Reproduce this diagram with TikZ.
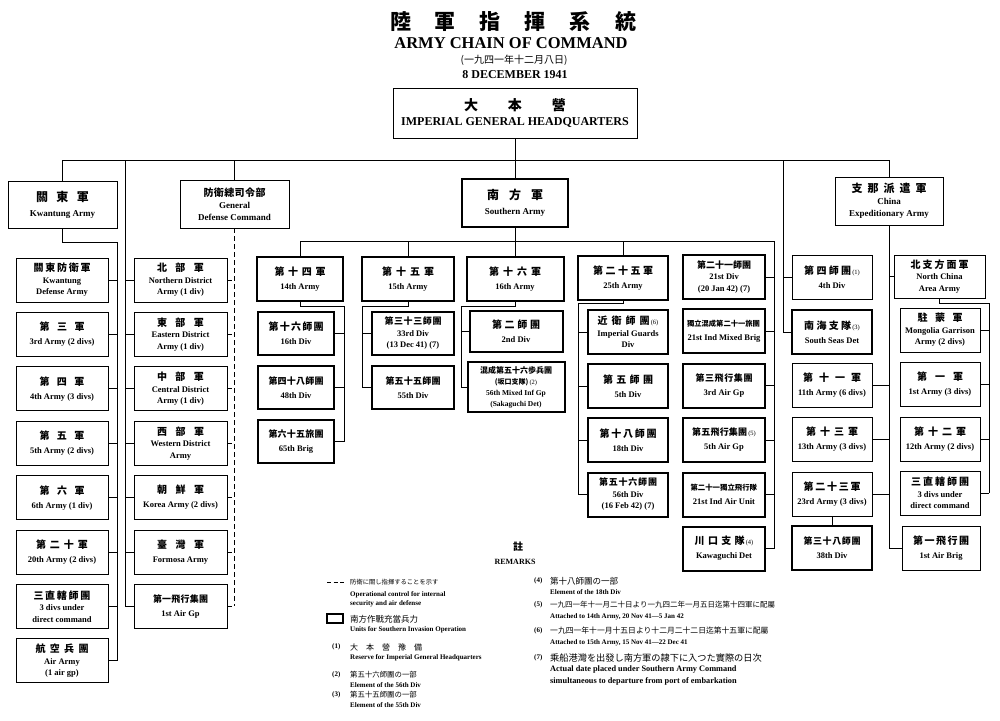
\documentclass[tikz,border=0pt]{standalone}
\usepackage{fontspec}
\setmainfont{Liberation Serif}
\newfontfamily\jp[WordSpace={0.01,1,1}]{Noto Sans CJK JP}
\usetikzlibrary{calc}
% spread the kanji of a name over a given width
\newcommand\js[3][10]{\makebox[#2][s]{\jp\fontsize{#1}{12}\selectfont#3}}
\newcommand\jr[2]{{\jp\mdseries\fontsize{#1}{#1}\selectfont#2}}
\newcommand\nt[1]{{\fontsize{6.5}{6.5}\selectfont\mdseries\,(#1)}}
\tikzstyle{unit}=[draw,line width=.9pt,inner sep=1pt,align=center,minimum height=44pt,font=\fontsize{8.5}{11.5}\selectfont\bfseries]
\tikzstyle{sunit}=[unit,line width=2pt]
\tikzstyle{head}=[unit,minimum height=48pt,font=\fontsize{9}{12}\selectfont\bfseries]
\tikzstyle{ln}=[line width=.9pt]
\tikzstyle{ctl}=[ln,dash pattern=on 5pt off 3pt]
\tikzstyle{rm}=[anchor=west,inner sep=0pt,font=\fontsize{7}{8}\selectfont\bfseries]
\begin{document}
\begin{tikzpicture}[x=1pt,y=-1pt]
	\fill[white] (0,0) rectangle (1000,720);
	\useasboundingbox (0,0) rectangle (1000,720);
	% title
	\node (T1) at (513,22) {\jp\bfseries\fontsize{21}{21}\selectfont 陸\hspace{24pt}軍\hspace{24pt}指\hspace{24pt}揮\hspace{24pt}系\hspace{24pt}統};
	\node (T2) at (511,43) {\fontsize{16.5}{17}\selectfont\bfseries ARMY CHAIN OF COMMAND};
	\node (T3) at (514,60) {\jp\fontsize{10}{10}\selectfont (一九四一年十二月八日)};
	\node (T4) at (515,75) {\fontsize{12}{12}\selectfont\bfseries 8 DECEMBER 1941};
	\node[unit,minimum width=244pt,minimum height=50pt] (HQ) at (515,113) {\js[14]{102pt}{大 本 營}\\[3pt]{\fontsize{12}{14}\selectfont IMPERIAL GENERAL HEADQUARTERS}};
	% top level
	\node[head,minimum width=109pt,minimum height=47pt] (KW) at (62.5,204.5) {\js[12]{53pt}{關 東 軍}\\[3pt]Kwantung Army};
	\node[head,minimum width=109pt] (GD) at (234.5,204) {\js{62pt}{防 衛 總 司 令 部}\\General\\Defense Command};
	\node[head,line width=2pt,minimum width=106pt] (SA) at (515,203) {\js[12]{56pt}{南 方 軍}\\[3pt]Southern Army};
	\node[head,minimum width=108pt] (CE) at (889,201) {\js[11]{75pt}{支 那 派 遣 軍}\\China\\Expeditionary Army};
	% Kwantung Army
	\node[unit,minimum width=92pt] (K1) at (62,280) {\js{57pt}{關 東 防 衛 軍}\\Kwantung\\Defense Army};
	\node[unit,minimum width=92pt] (K2) at (62,334.4) {\js{45pt}{第 三 軍}\\[2.5pt]3rd Army (2 divs)};
	\node[unit,minimum width=92pt] (K3) at (62,388.8) {\js{45pt}{第 四 軍}\\[2.5pt]4th Army (3 divs)};
	\node[unit,minimum width=92pt] (K4) at (62,443.2) {\js{45pt}{第 五 軍}\\[2.5pt]5th Army (2 divs)};
	\node[unit,minimum width=92pt] (K5) at (62,497.6) {\js{45pt}{第 六 軍}\\[2.5pt]6th Army (1 div)};
	\node[unit,minimum width=92pt] (K6) at (62,552) {\js{52pt}{第 二 十 軍}\\[2.5pt]20th Army (2 divs)};
	\node[unit,minimum width=92pt] (K7) at (62,606.4) {\js{57pt}{三 直 轄 師 團}\\3 divs under\\direct command};
	\node[unit,minimum width=92pt] (K8) at (62,660.8) {\js{53pt}{航 空 兵 團}\\Air Army\\(1 air gp)};
	% General Defense Command
	\node[unit,minimum width=93pt] (G1) at (180.5,280) {\js{47pt}{北 部 軍}\\Northern District\\Army (1 div)};
	\node[unit,minimum width=93pt] (G2) at (180.5,334.4) {\js{47pt}{東 部 軍}\\Eastern District\\Army (1 div)};
	\node[unit,minimum width=93pt] (G3) at (180.5,388.8) {\js{47pt}{中 部 軍}\\Central District\\Army (1 div)};
	\node[unit,minimum width=93pt] (G4) at (180.5,443.2) {\js{47pt}{西 部 軍}\\Western District\\Army};
	\node[unit,minimum width=93pt] (G5) at (180.5,497.6) {\js{47pt}{朝 鮮 軍}\\[2.5pt]Korea Army (2 divs)};
	\node[unit,minimum width=93pt] (G6) at (180.5,552) {\js{47pt}{臺 灣 軍}\\[2.5pt]Formosa Army};
	\node[unit,minimum width=93pt] (G7) at (180.5,606.4) {\js[9]{55pt}{第 一 飛 行 集 團}\\[2.5pt]1st Air Gp};
	% Southern Army
	\node[sunit,minimum width=86pt] (A14) at (300,279) {\js{51pt}{第 十 四 軍}\\[2.5pt]14th Army};
	\node[sunit,minimum width=92pt] (A15) at (408,279) {\js{52pt}{第 十 五 軍}\\[2.5pt]15th Army};
	\node[sunit,minimum width=97pt] (A16) at (515,279) {\js{52pt}{第 十 六 軍}\\[2.5pt]16th Army};
	\node[sunit,minimum width=90pt] (A25) at (623,278) {\js{60pt}{第 二 十 五 軍}\\[2.5pt]25th Army};
	\node[sunit,minimum width=76pt,minimum height=43pt] (B1) at (296,333.5) {\js{55pt}{第 十 六 師 團}\\[2.5pt]16th Div};
	\node[sunit,minimum width=76pt,minimum height=43pt] (B2) at (296,387.5) {\js[9]{55pt}{第 四 十 八 師 團}\\[2.5pt]48th Div};
	\node[sunit,minimum width=76pt,minimum height=43pt] (B3) at (296,441.5) {\js[9]{55pt}{第 六 十 五 旅 團}\\[2.5pt]65th Brig};
	\node[sunit,minimum width=82pt,minimum height=43pt] (C1) at (413,333.5) {\js[9]{57pt}{第 三 十 三 師 團}\\33rd Div\\(13 Dec 41) (7)};
	\node[sunit,minimum width=82pt,minimum height=43pt] (C2) at (413,387.5) {\js[9]{55pt}{第 五 十 五 師 團}\\[2.5pt]55th Div};
	\node[sunit,minimum width=93pt,minimum height=41pt] (F1) at (516,331.5) {\js{48pt}{第 二 師 團}\\[2.5pt]2nd Div};
	\node[sunit,minimum width=97pt,minimum height=50pt,font=\fontsize{7.5}{11}\selectfont\bfseries] (F2) at (516,387) {\js[8]{72pt}{混 成 第 五 十 六 歩 兵 團}\\{\jp\fontsize{7}{7}\selectfont (坂口支隊)}\nt{2}\\56th Mixed Inf Gp\\(Sakaguchi Det)};
	\node[sunit,minimum width=80pt] (E1) at (628,332) {\js{52pt}{近 衛 師 團}\nt{6}\\Imperial Guards\\Div};
	\node[sunit,minimum width=80pt] (E2) at (628,386) {\js{50pt}{第 五 師 團}\\[2.5pt]5th Div};
	\node[sunit,minimum width=80pt] (E3) at (628,440) {\js{57pt}{第 十 八 師 團}\\[2.5pt]18th Div};
	\node[sunit,minimum width=80pt] (E4) at (628,494.5) {\js[9]{58pt}{第 五 十 六 師 團}\\56th Div\\(16 Feb 42) (7)};
	\node[sunit,minimum width=82pt] (D1) at (724,277) {\js[9]{54pt}{第 二 十 一 師 團}\\21st Div\\(20 Jan 42) (7)};
	\node[sunit,minimum width=82pt] (D2) at (724,331) {\js[7.3]{74pt}{獨立混成第二十一旅團}\\[2.5pt]21st Ind Mixed Brig};
	\node[sunit,minimum width=82pt] (D3) at (724,385.5) {\js[9]{57pt}{第 三 飛 行 集 團}\\[2.5pt]3rd Air Gp};
	\node[sunit,minimum width=82pt] (D4) at (724,440) {\js[9]{55pt}{第 五 飛 行 集 團}\nt{5}\\[2.5pt]5th Air Gp};
	\node[sunit,minimum width=82pt] (D5) at (724,494.5) {\js[7.4]{67pt}{第二十一獨立飛行隊}\\[2.5pt]21st Ind Air Unit};
	\node[sunit,minimum width=82pt] (D6) at (724,548.5) {\js{50pt}{川 口 支 隊}\nt{4}\\[2.5pt]Kawaguchi Det};
	% China Expeditionary Army
	\node[unit,minimum width=80pt] (M1) at (832,277) {\js{47pt}{第 四 師 團}\nt{1}\\[2.5pt]4th Div};
	\node[sunit,minimum width=80pt] (M2) at (832,332) {\js{47pt}{南 海 支 隊}\nt{3}\\[2.5pt]South Seas Det};
	\node[unit,minimum width=80pt] (M3) at (832,385) {\js{58pt}{第 十 一 軍}\\[2.5pt]11th Army (6 divs)};
	\node[unit,minimum width=80pt] (M4) at (832,439) {\js{52pt}{第 十 三 軍}\\[2.5pt]13th Army (3 divs)};
	\node[unit,minimum width=80pt] (M5) at (832,494) {\js{57pt}{第 二 十 三 軍}\\[2.5pt]23rd Army (3 divs)};
	\node[sunit,minimum width=80pt] (M6) at (832,548) {\js[9]{57pt}{第 三 十 八 師 團}\\[2.5pt]38th Div};
	\node[unit,minimum width=91pt,minimum height=43pt] (NC) at (939.5,276.5) {\js{58pt}{北 支 方 面 軍}\\North China\\Area Army};
	\node[unit,minimum width=80pt] (N1) at (940,330) {\js{45pt}{駐 蒙 軍}\\Mongolia Garrison\\Army (2 divs)};
	\node[unit,minimum width=80pt] (N2) at (940,384.5) {\js{46pt}{第 一 軍}\\[2.5pt]1st Army (3 divs)};
	\node[unit,minimum width=80pt] (N3) at (940,439) {\js{52pt}{第 十 二 軍}\\[2.5pt]12th Army (2 divs)};
	\node[unit,minimum width=80pt] (N4) at (940,493) {\js{58pt}{三 直 轄 師 團}\\3 divs under\\direct command};
	\node[unit,minimum width=78pt] (AB) at (941,548) {\js{56pt}{第 一 飛 行 團}\\[2.5pt]1st Air Brig};
	% lines under Imperial General Headquarters
	\coordinate (BUS) at (0,160);
	\draw[ln] (KW.north) -- (KW.north |- BUS) -- (CE.north |- BUS) -- (CE.north);
	\draw[ln] (HQ.south) -- (SA.north);
	\draw[ln] (GD.north) -- (GD.north |- BUS);
	\coordinate (KV) at (117,242);
	\draw[ln] (KW.south) |- (KV) -- (KV |- K8);
	\foreach \i in {1,...,8} \draw[ln] (K\i.east) -- (K\i.east -| KV);
	\coordinate (GL) at (125,160);
	\draw[ln] (GL) -- (GL |- G7);
	\foreach \i in {1,...,7} \draw[ln] (G\i.west) -- (G\i.west -| GL);
	\draw[ctl] (GD.south) -- (GD.south |- G7);
	\foreach \i in {1,...,7} \draw[ctl] (G\i.east) -- (G\i.east -| GD.south);
	% Southern Army
	\coordinate (SB) at (774,241);
	\draw[ln] (A14.north) |- (SB) -- (SB |- D6);
	\draw[ln] (A15.north) -- (A15.north |- SB);
	\draw[ln] (A25.north) -- (A25.north |- SB);
	\draw[ln] (SA.south) -- (A16.north);
	\foreach \i in {1,...,6} \draw[ln] (D\i.east) -- (D\i.east -| SB);
	\coordinate (V14) at (344,306);
	\draw[ln] (A14.south) |- (V14) -- (V14 |- B3);
	\foreach \i in {1,2,3} \draw[ln] (B\i.east) -- (B\i.east -| V14);
	\coordinate (V15) at (362,306);
	\draw[ln] (A15.south) |- (V15) -- (V15 |- C2);
	\foreach \i in {1,2} \draw[ln] (C\i.west) -- (C\i.west -| V15);
	\coordinate (V16) at (461,306);
	\draw[ln] (A16.south) |- (V16) -- (V16 |- F2);
	\foreach \i in {1,2} \draw[ln] (F\i.west) -- (F\i.west -| V16);
	\coordinate (V25) at (578,303);
	\draw[ln] (A25.south) |- (V25) -- (V25 |- E4);
	\foreach \i in {1,...,4} \draw[ln] (E\i.west) -- (E\i.west -| V25);
	% China Expeditionary Army
	\coordinate (CL) at (783,160);
	\draw[ln] (CL) -- (CL |- M2);
	\foreach \i in {1,2} \draw[ln] (M\i.west) -- (M\i.west -| CL);
	\draw[ln] (CE.south) -- (CE.south |- AB);
	\foreach \i in {3,4,5} \draw[ln] (M\i.east) -- (M\i.east -| CE.south);
	\draw[ln] (NC.west) -- (NC.west -| CE.south);
	\draw[ln] (AB.west) -- (AB.west -| CE.south);
	\draw[ln] (M5.south) -- (M6.north);
	\coordinate (NV) at (989,303);
	\draw[ln] (NC.south) |- (NV) -- (NV |- N4);
	\foreach \i in {1,...,4} \draw[ln] (N\i.east) -- (N\i.east -| NV);
	% remarks
	\node (R0) at (518,547) {\jp\bfseries\fontsize{10}{10}\selectfont 註};
	\node (R00) at (515,562) {\fontsize{8}{8}\selectfont\bfseries REMARKS};
	\draw[ln,dash pattern=on 4pt off 2.5pt] (327,582) -- (345,582);
	\node[rm] (R1) at (350,582) {\jr{6.3}{防衛に關し指揮することを示す}};
	\node[rm] (R1a) at (350,595) {Operational control for internal};
	\node[rm] (R1b) at (350,604) {security and air defense};
	\draw[line width=2pt] (327,614) rectangle (343,623);
	\node[rm] (R2) at (350,619) {\jr{8.5}{南方作戰充當兵力}};
	\node[rm] (R2a) at (350,630) {Units for Southern Invasion Operation};
	\node[rm] (N1l) at (332,647) {(1)};
	\node[rm] (R3) at (350,647) {\makebox[72pt][s]{\jp\mdseries\fontsize{8}{8}\selectfont 大 本 營 豫 備}};
	\node[rm] (R3a) at (350,658) {Reserve for Imperial General Headquarters};
	\node[rm] (N2l) at (332,675) {(2)};
	\node[rm] (R4) at (350,675) {\jr{7.4}{第五十六師團の一部}};
	\node[rm] (R4a) at (350,685) {Element of the 56th Div};
	\node[rm] (N3l) at (332,695) {(3)};
	\node[rm] (R5) at (350,695) {\jr{7.4}{第五十五師團の一部}};
	\node[rm] (R5a) at (350,705) {Element of the 55th Div};
	\node[rm] (N4l) at (534,581) {(4)};
	\node[rm] (R6) at (550,581) {\jr{8.5}{第十八師團の一部}};
	\node[rm] (R6a) at (550,592) {Element of the 18th Div};
	\node[rm] (N5l) at (534,605) {(5)};
	\node[rm] (R7) at (550,605) {\jr{7.5}{一九四一年十一月二十日より一九四二年一月五日迄第十四軍に配屬}};
	\node[rm] (R7a) at (550,617) {Attached to 14th Army, 20 Nov 41---5 Jan 42};
	\node[rm] (N6l) at (534,631) {(6)};
	\node[rm] (R8) at (550,631) {\jr{7.8}{一九四一年十一月十五日より十二月二十二日迄第十五軍に配屬}};
	\node[rm] (R8a) at (550,643) {Attached to 15th Army, 15 Nov 41---22 Dec 41};
	\node[rm] (N7l) at (534,658) {(7)};
	\node[rm] (R9) at (550,658) {\jr{9.2}{乘船港灣を出發し南方軍の隷下に入つた實際の日次}};
	\node[rm,font=\fontsize{8.3}{9}\selectfont\bfseries] (R9a) at (550,670) {Actual date placed under Southern Army Command};
	\node[rm,font=\fontsize{8.3}{9}\selectfont\bfseries] (R9b) at (550,681) {simultaneous to departure from port of embarkation};
\end{tikzpicture}
\end{document}
